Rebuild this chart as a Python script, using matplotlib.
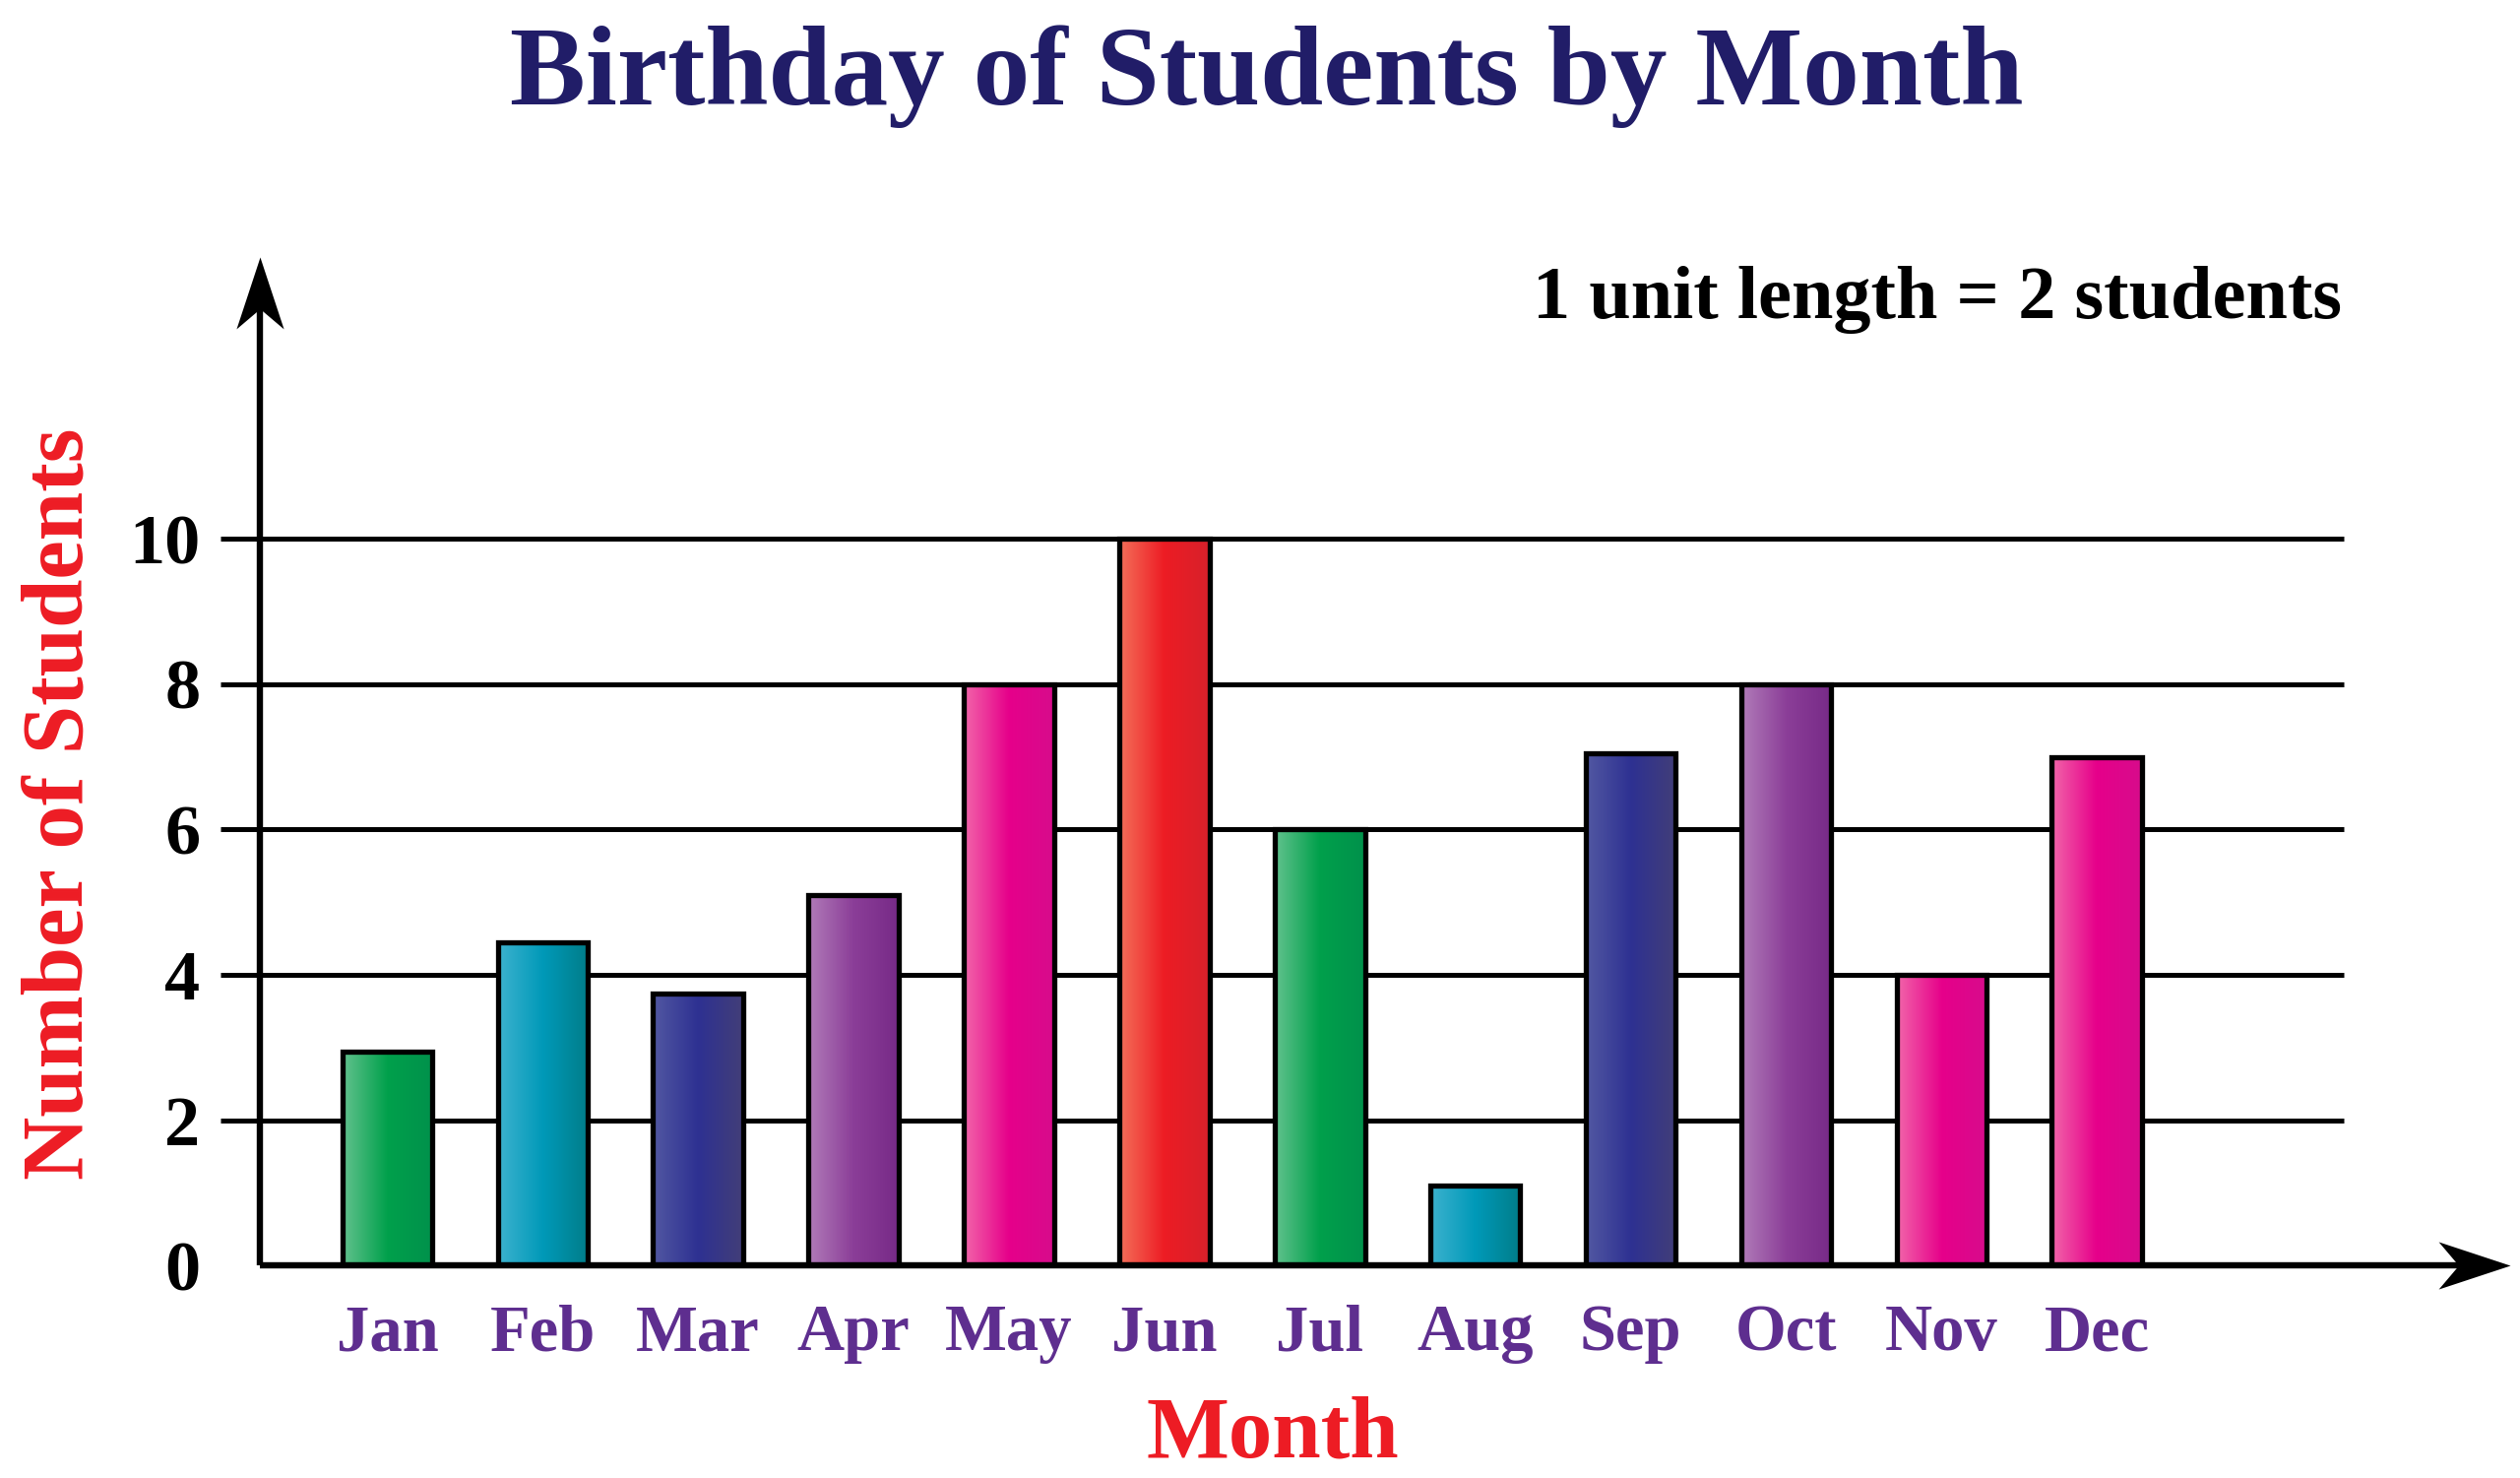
import numpy as np
import matplotlib.pyplot as plt
from matplotlib.colors import LinearSegmentedColormap
from matplotlib.path import Path

# Data
months = ['Jan', 'Feb', 'Mar', 'Apr', 'May', 'Jun', 'Jul', 'Aug', 'Sep', 'Oct', 'Nov', 'Dec']
students = [2.95, 4.45, 3.75, 5.1, 8, 10, 6, 1.1, 7.05, 8, 4, 7]
y_ticks = [0, 2, 4, 6, 8, 10]

# gradient colour families (left highlight, middle, right shade)
families = {
    'green': ['#62c28e', '#00a04b', '#00914c'],
    'teal': ['#3db2cf', '#0099b8', '#007d89'],
    'navy': ['#5258a2', '#2e3192', '#423e78'],
    'purple': ['#b17cb9', '#8b3e98', '#772a87'],
    'pink': ['#f266aa', '#e6008a', '#d70c8c'],
    'red': ['#f4705a', '#ed1c24', '#d7212b'],
}
bar_family = ['green', 'teal', 'navy', 'purple', 'pink', 'red',
              'green', 'teal', 'navy', 'purple', 'pink', 'pink']

SERIF = 'Liberation Serif'
TITLE_COLOR = '#211d68'
LABEL_COLOR = '#ed1c24'
MONTH_COLOR = '#5e2e8f'


def arrow_head(direction):
    # concave "stealth" head with the tip at (0, 0)
    verts = [(0, 0), (0.33, -1), (0, -0.72), (-0.33, -1), (0, 0)]
    if direction == 'right':
        verts = [(y, x) for x, y in verts]
    codes = [Path.MOVETO, Path.LINETO, Path.LINETO, Path.LINETO, Path.CLOSEPOLY]
    return Path(verts, codes)


fig = plt.figure(figsize=(25.6, 15.01), dpi=100)
ax = fig.add_axes([0.1033, 0.1436, 0.8929, 0.6823])
ax.set_xlim(-0.817, 13.66)
ax.set_ylim(0, 13.87)
for s in ax.spines.values():
    s.set_visible(False)

x = np.arange(len(months))
bar_w = 0.58

# grid lines
ax.hlines(y_ticks[1:], -1.075, 12.585, colors='black', lw=3.6, zorder=1, clip_on=False)

# bars with horizontal gradient
grad = np.linspace(0, 1, 256).reshape(1, -1)
bars = ax.bar(x, students, width=bar_w, facecolor='none', edgecolor='black',
              linewidth=3.8, zorder=4)
for rect, fam in zip(bars, bar_family):
    cmap = LinearSegmentedColormap.from_list(fam, list(zip([0, 0.5, 1], families[fam])))
    x0, w, h = rect.get_x(), rect.get_width(), rect.get_height()
    im = ax.imshow(grad, cmap=cmap, extent=(x0, x0 + w, 0, h), aspect='auto',
                   interpolation='bicubic', zorder=3)
    im.set_clip_path(rect)

# axes with arrow heads
ax.plot([0, 0.985], [0, 0], transform=ax.transAxes, color='black', lw=4.6,
        solid_capstyle='butt', clip_on=False, zorder=6)
ax.plot([0, 0], [0, 0.97], transform=ax.transAxes, color='black', lw=4.6,
        solid_capstyle='butt', clip_on=False, zorder=6)
ax.plot([1], [0], transform=ax.transAxes, marker=arrow_head('right'), markersize=105,
        color='black', markeredgewidth=0, clip_on=False, zorder=7)
ax.plot([0], [1], transform=ax.transAxes, marker=arrow_head('up'), markersize=105,
        color='black', markeredgewidth=0, clip_on=False, zorder=7)

# ticks
ax.set_yticks(y_ticks)
ax.set_yticklabels([str(t) for t in y_ticks], fontfamily=SERIF, fontweight='bold',
                   fontsize=52, color='black')
ax.set_xticks(x)
ax.set_xticklabels(months, fontfamily=SERIF, fontweight='bold', fontsize=48,
                   color=MONTH_COLOR)
ax.tick_params(axis='y', length=0, pad=44)
ax.tick_params(axis='x', length=0, pad=28)

# texts
fig.text(0.5026, 0.9293, 'Birthday of Students by Month', ha='center', va='baseline',
         fontfamily=SERIF, fontweight='bold', fontsize=83, color=TITLE_COLOR)
fig.text(0.505, 0.0141, 'Month', ha='center', va='baseline',
         fontfamily=SERIF, fontweight='bold', fontsize=64, color=LABEL_COLOR)
fig.text(0.0242, 0.456, 'Number of Students', ha='center', va='center', rotation=90,
         fontfamily=SERIF, fontweight='bold', fontsize=64, color=LABEL_COLOR)
fig.text(0.9292, 0.7845, '1 unit length = 2 students', ha='right', va='baseline',
         fontfamily=SERIF, fontweight='bold', fontsize=55, color='black')

fig.savefig('out.png', dpi=100, facecolor='white')
